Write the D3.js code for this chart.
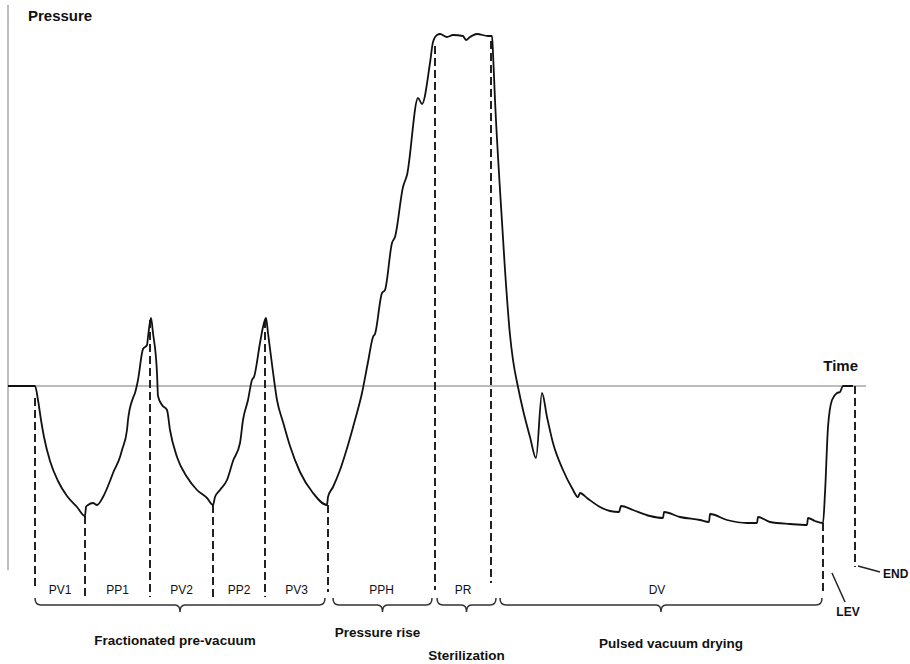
<!DOCTYPE html>
<html>
<head>
<meta charset="utf-8">
<script src="https://cdn.jsdelivr.net/npm/d3@7"></script>
<style>
  body { margin: 0; background: #fff; }
  svg { display: block; font-family: "Liberation Sans", Arial, sans-serif; }
</style>
</head>
<body>
<div id="chart"></div>
<script>
// sterilization cycle pressure curve (schematic), time in arbitrary units, pressure relative to atmosphere
let curveTime = [0, 2.7, 3.0, 3.3, 3.6, 4.2, 5.0, 5.9, 6.9, 7.7,
  7.8, 8.0, 8.5, 8.9, 9.5, 10.2, 10.5, 11.2, 11.4, 11.9, 12.0, 12.5, 12.7, 13.0, 13.5, 13.9, 14.0, 14.3,
  14.5, 14.9, 15.0, 15.4, 15.9, 16.2, 16.9, 17.9, 18.9, 19.9, 20.5,
  20.7, 21.2, 21.9, 22.5, 23.2, 23.5, 24.0, 24.4, 24.6, 25.2, 25.5, 25.8,
  26.0, 26.5, 26.9, 27.5, 28.2, 29.2, 30.5, 31.9,
  32.0, 32.5, 33.2, 34.0, 34.7, 35.4, 36.0, 36.5, 36.7, 37.4, 37.7, 38.4, 38.7, 39.5, 39.9, 41.0, 41.4, 42.2, 42.5, 42.9,
  43.2, 43.9, 44.5, 45.5, 45.8, 46.2, 46.9, 48.0, 48.4,
  48.5, 48.7, 49.2, 49.7, 50.2, 50.5, 51.0, 51.5, 52.2, 52.8, 53.4, 53.9, 54.5, 55.5, 56.4, 57.0, 57.2, 57.9,
  59.2, 60.2, 61.1, 61.3, 62.5, 64.2, 65.5, 65.6, 67.2, 69.2, 70.1, 70.2, 71.9, 73.9, 74.9, 75.0, 76.2, 78.2,
  79.9, 80.0, 80.7, 81.5,
  81.7, 82.0, 82.4, 82.9, 83.2, 83.5, 84.5];
let curvePressure = [0, 0, -0.14, -0.34, -0.51, -0.75, -0.95, -1.10, -1.21, -1.30,
  -1.21, -1.19, -1.17, -1.19, -1.11, -0.95, -0.87, -0.71, -0.64, -0.44, -0.34, -0.12, -0.07, 0.06, 0.37, 0.41, 0.49, 0.68,
  0.53, 0.13, -0.10, -0.19, -0.24, -0.44, -0.71, -0.91, -1.04, -1.12, -1.19,
  -1.11, -1.04, -0.94, -0.75, -0.57, -0.34, -0.14, 0.06, 0.09, 0.43, 0.59, 0.68,
  0.53, 0.14, -0.14, -0.36, -0.60, -0.86, -1.07, -1.19,
  -1.11, -1.01, -0.84, -0.59, -0.34, -0.07, 0.24, 0.49, 0.52, 0.93, 0.96, 1.43, 1.49, 1.99, 2.11, 2.88, 2.82, 3.23, 3.44, 3.51,
  3.52, 3.49, 3.51, 3.50, 3.46, 3.49, 3.52, 3.50, 3.50,
  3.33, 2.86, 1.96, 1.16, 0.51, 0.26, -0.01, -0.24, -0.51, -0.72, -0.07, -0.31, -0.57, -0.84, -1.02, -1.11, -1.07, -1.12,
  -1.21, -1.25, -1.26, -1.20, -1.24, -1.30, -1.32, -1.26, -1.31, -1.34, -1.36, -1.28, -1.34, -1.37, -1.37, -1.31, -1.36, -1.38,
  -1.39, -1.32, -1.35, -1.37,
  -1.07, -0.41, -0.14, -0.07, -0.06, 0, 0];

// phase boundaries (dashed lines): time, pressure where it meets the curve, pressure where it stops
let dividerTime = [2.7, 7.7, 14.2, 20.5, 25.7, 32.0, 42.7, 48.3, 81.5, 84.7];
let dividerTop = [-0.12, -1.30, 0.66, -1.19, 0.66, -1.19, 3.40, 3.45, -1.37, 0];
let dividerEnd = [-2.04, -2.11, -2.11, -2.11, -2.11, -2.06, -2.04, -1.97, -2.07, -1.81];

// phase names sit between consecutive dividers
let phaseNames = ["PV1", "PP1", "PV2", "PP2", "PV3", "PPH", "PR", "DV"];

// groups of phases with braces
let groupNames = ["Fractionated pre-vacuum", "Pressure rise", "Sterilization", "Pulsed vacuum drying"];
let groupStart = [2.7, 32.5, 42.9, 49.2];
let groupEnd = [31.7, 42.4, 48.8, 81.4];

let svgWidth = 910;
let svgHeight = 664;

let svg = d3.select("#chart")
  .append("svg")
  .attr("width", svgWidth)
  .attr("height", svgHeight);

// time units -> px, pressure units -> px
let x = d3.scaleLinear().domain([0, 85.8]).range([8, 866]);
let y = d3.scaleLinear().domain([0, 3.5]).range([386, 36]);

// axes (plain grey lines, no ticks)
svg.append("line")
  .attr("x1", x(0)).attr("x2", x(0))
  .attr("y1", 5).attr("y2", 570)
  .attr("stroke", "#a6a6a6")
  .attr("stroke-width", 1.5);

svg.append("line")
  .attr("x1", x(0)).attr("x2", x(85.8))
  .attr("y1", y(0)).attr("y2", y(0))
  .attr("stroke", "#a6a6a6")
  .attr("stroke-width", 1.5);

svg.append("text")
  .attr("x", 28).attr("y", 21)
  .attr("font-size", "15px")
  .attr("font-weight", "bold")
  .attr("fill", "#111")
  .text("Pressure");

svg.append("text")
  .attr("x", 858).attr("y", 371)
  .attr("text-anchor", "end")
  .attr("font-size", "15px")
  .attr("font-weight", "bold")
  .attr("fill", "#111")
  .text("Time");

// dashed phase dividers
svg.append("g")
  .selectAll("line")
  .data(dividerTime)
  .enter()
  .append("line")
  .attr("x1", d => x(d)).attr("x2", d => x(d))
  .attr("y1", (d, i) => y(dividerTop[i]))
  .attr("y2", (d, i) => y(dividerEnd[i]))
  .attr("stroke", "#222")
  .attr("stroke-width", 2)
  .attr("stroke-dasharray", "8,4");

// the pressure curve
let curveData = curveTime.map((t, i) => ({t: t, p: curvePressure[i]}));
let line = d3.line()
  .x(d => x(d.t))
  .y(d => y(d.p))
  .curve(d3.curveMonotoneX);

svg.append("path")
  .datum(curveData)
  .attr("d", line)
  .attr("fill", "none")
  .attr("stroke", "#111")
  .attr("stroke-width", 1.8)
  .attr("stroke-linejoin", "round");

// phase labels
svg.append("g")
  .selectAll("text")
  .data(phaseNames)
  .enter()
  .append("text")
  .attr("x", (d, i) => x((dividerTime[i] + dividerTime[i + 1]) / 2))
  .attr("y", 594)
  .attr("text-anchor", "middle")
  .attr("font-size", "12px")
  .attr("fill", "#111")
  .text(d => d);

// braces under the phases
function bracePath(x0, x1) {
  let yl = 605, yt = 598, tip = 612;
  let xc = (x0 + x1) / 2;
  return `M${x0},${yt} Q${x0},${yl} ${x0 + 6},${yl} L${xc - 5},${yl} Q${xc},${yl} ${xc},${tip}` +
    ` Q${xc},${yl} ${xc + 5},${yl} L${x1 - 6},${yl} Q${x1},${yl} ${x1},${yt}`;
}

svg.append("g")
  .selectAll("path")
  .data(groupNames)
  .enter()
  .append("path")
  .attr("d", (d, i) => bracePath(x(groupStart[i]), x(groupEnd[i])))
  .attr("fill", "none")
  .attr("stroke", "#333")
  .attr("stroke-width", 1.5);

// group labels, staggered so they don't collide
let groupLabelShift = [-5, -5, 0, 10];
let groupLabelY = [645, 637, 660, 648];
svg.append("g")
  .selectAll("text")
  .data(groupNames)
  .enter()
  .append("text")
  .attr("x", (d, i) => x((groupStart[i] + groupEnd[i]) / 2) + groupLabelShift[i])
  .attr("y", (d, i) => groupLabelY[i])
  .attr("text-anchor", "middle")
  .attr("font-size", "13.5px")
  .attr("font-weight", "bold")
  .attr("fill", "#111")
  .text(d => d);

// LEV and END callouts
svg.append("line")
  .attr("x1", 832).attr("y1", 573).attr("x2", 845).attr("y2", 602)
  .attr("stroke", "#222").attr("stroke-width", 1.5);
svg.append("text")
  .attr("x", 848).attr("y", 616)
  .attr("text-anchor", "middle")
  .attr("font-size", "12px")
  .attr("font-weight", "bold")
  .attr("fill", "#111")
  .text("LEV");

svg.append("line")
  .attr("x1", 858).attr("y1", 566).attr("x2", 880).attr("y2", 572)
  .attr("stroke", "#222").attr("stroke-width", 1.5);
svg.append("text")
  .attr("x", 883).attr("y", 578)
  .attr("font-size", "12px")
  .attr("font-weight", "bold")
  .attr("fill", "#111")
  .text("END");
</script>
</body>
</html>
